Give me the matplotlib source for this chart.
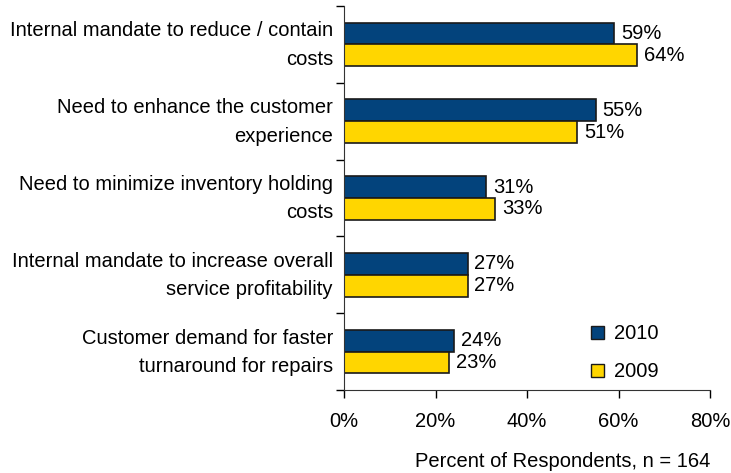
import numpy as np
import matplotlib.pyplot as plt
from matplotlib.patches import Patch
from matplotlib.ticker import FixedLocator, PercentFormatter
from matplotlib.transforms import ScaledTranslation

plt.rcParams['font.family'] = ['Liberation Sans', 'DejaVu Sans']

categories = [
    'Internal mandate to reduce / contain\ncosts',
    'Need to enhance the customer\nexperience',
    'Need to minimize inventory holding\ncosts',
    'Internal mandate to increase overall\nservice profitability',
    'Customer demand for faster\nturnaround for repairs',
]
vals_2010 = [59, 55, 31, 27, 24]
vals_2009 = [64, 51, 33, 27, 23]
c2010 = '#03437C'
c2009 = '#FFD600'

fig = plt.figure(figsize=(7.31, 4.73), dpi=100)
ax = fig.add_axes([0.4706, 0.1755, 0.5007, 0.8118])

y = np.arange(len(categories))
h = 0.285
ax.barh(y - h / 2, vals_2010, height=h, color=c2010, edgecolor='#1a1a1a', linewidth=1.2)
ax.barh(y + h / 2, vals_2009, height=h, color=c2009, edgecolor='#1a1a1a', linewidth=1.2)

fs = 14.5
for i in range(len(categories)):
    ax.annotate('%d%%' % vals_2010[i], (vals_2010[i], y[i] - h / 2), xytext=(5, 0),
                textcoords='offset points', va='center', ha='left', fontsize=fs)
    ax.annotate('%d%%' % vals_2009[i], (vals_2009[i], y[i] + h / 2), xytext=(5, 0),
                textcoords='offset points', va='center', ha='left', fontsize=fs)

ax.set_ylim(len(categories) - 0.5, -0.5)
ax.set_xlim(0, 80)
ax.set_xticks([0, 20, 40, 60, 80])
ax.xaxis.set_major_formatter(PercentFormatter(decimals=0))
ax.yaxis.set_major_locator(FixedLocator(np.arange(-0.5, len(categories), 1.0)))
ax.yaxis.set_major_formatter(plt.NullFormatter())
ax.yaxis.set_minor_locator(FixedLocator(y))
ax.set_yticklabels(categories, minor=True, fontsize=fs, linespacing=1.62, ha='right')
ax.tick_params(axis='y', which='minor', length=0, pad=8)
ax.tick_params(axis='y', which='major', length=6, width=1, direction='out')
ax.tick_params(axis='x', length=6, width=1, labelsize=fs, pad=10)

# nudge the two-line category labels up a little
shift = ScaledTranslation(0, 0.06, fig.dpi_scale_trans)
for lbl in ax.get_yticklabels(minor=True):
    lbl.set_transform(lbl.get_transform() + shift)

for s in ['top', 'right']:
    ax.spines[s].set_visible(False)
for s in ['left', 'bottom']:
    ax.spines[s].set_color('#333333')

ax.set_xlabel('Percent of Respondents, n = 164', fontsize=fs, labelpad=15, loc='right')

handles = [Patch(facecolor=c2010, edgecolor='#1a1a1a'), Patch(facecolor=c2009, edgecolor='#1a1a1a')]
ax.legend(handles, ['2010', '2009'], loc='lower right', bbox_to_anchor=(0.91, -0.025),
          frameon=False, fontsize=fs, handlelength=0.65, handleheight=0.65,
          handletextpad=0.5, labelspacing=0.95)

fig.savefig('out.png', dpi=100)
